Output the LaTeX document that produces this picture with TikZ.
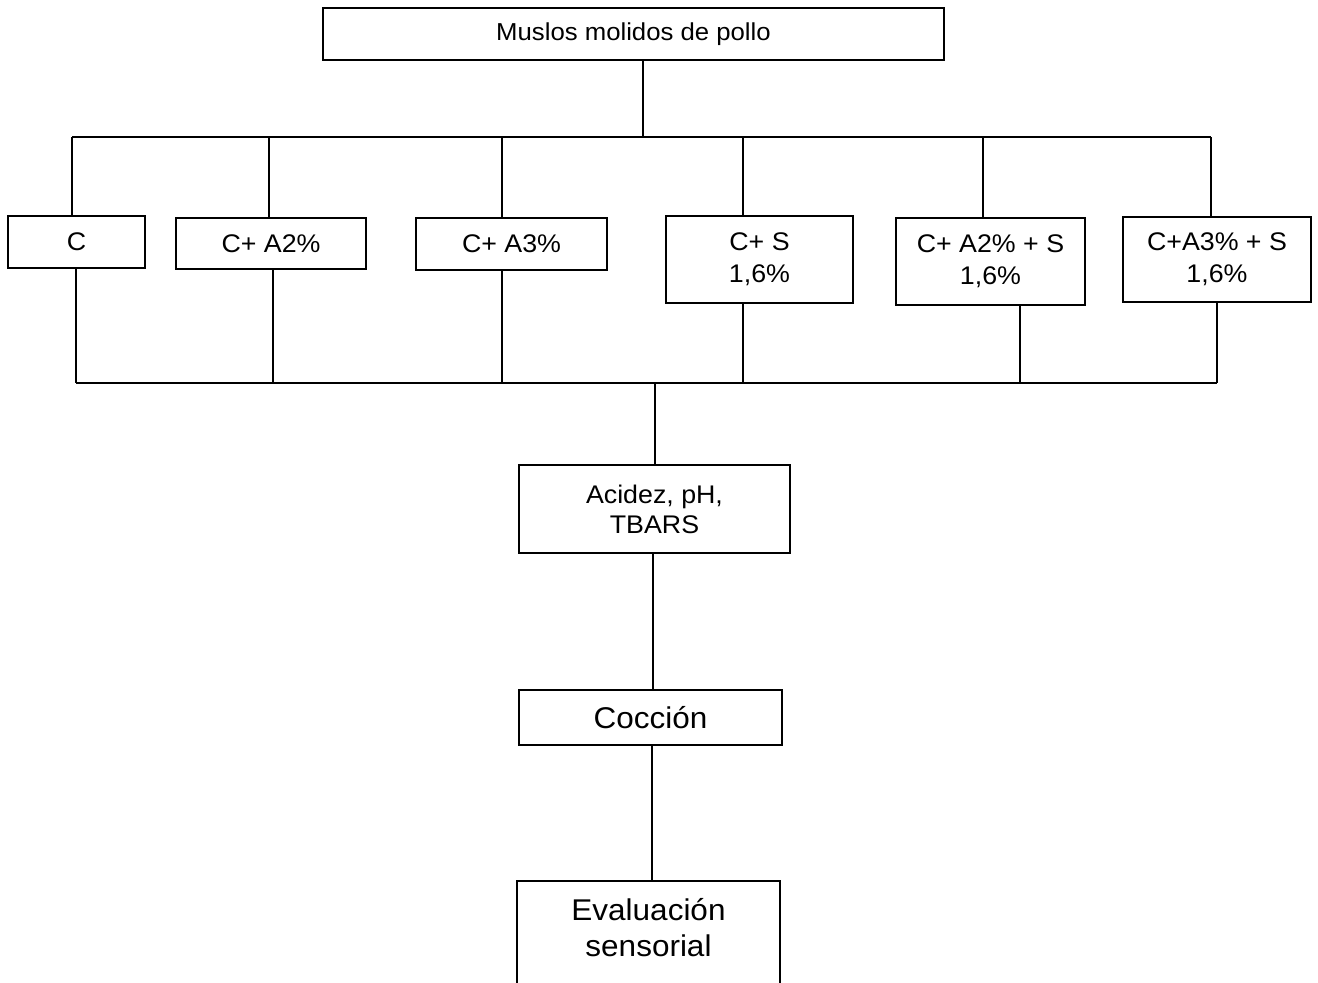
\documentclass[tikz,border=0pt]{standalone}
\usepackage{fontspec}
\setmainfont{Liberation Sans}[FakeStretch=1.05]
\begin{document}
\begin{tikzpicture}[x=1pt,y=-1pt,
  box/.style={draw,line width=1.8pt,inner sep=0pt,align=center},
  link/.style={line width=1.8pt},
  txtA/.style={font=\fontsize{24.5}{30}\selectfont},
  txtB/.style={font=\fontsize{25.5}{32}\selectfont},
  txtC/.style={font=\fontsize{25.5}{30}\selectfont},
  txtD/.style={font=\fontsize{30}{36}\selectfont}]
\useasboundingbox (0,0) rectangle (1318,983);
\clip (0,0) rectangle (1318,983);

% raw material
\node[box,txtA,minimum width=621pt,minimum height=52pt] (top) at (633.5,34) {Muslos molidos de pollo};

% six treatments
\node[box,txtB,minimum width=137pt,minimum height=52pt] (c)    at (76.5,242)   {C};
\node[box,txtB,minimum width=190pt,minimum height=51pt] (ca2)  at (271,243.5)  {C+ A2\%};
\node[box,txtB,minimum width=191pt,minimum height=52pt] (ca3)  at (511.5,244)  {C+ A3\%};
\node[box,txtB,minimum width=187pt,minimum height=87pt] (cs)   at (759.5,259.5) {C+ S\\1,6\%};
\node[box,txtB,minimum width=189pt,minimum height=87pt] (ca2s) at (990.5,261.5) {C+ A2\% + S\\1,6\%};
\node[box,txtB,minimum width=188pt,minimum height=85pt] (ca3s) at (1217,259.5) {C+A3\% + S\\1,6\%};

% analyses
\node[box,txtC,minimum width=271pt,minimum height=88pt] (acid) at (654.5,509) {Acidez, pH,\\TBARS};
\node[box,txtD,minimum width=263pt,minimum height=55pt] (cocc) at (650.5,717.5) {Cocción};
\node[box,minimum width=263pt,minimum height=130pt,anchor=north] (eval) at (648.5,880) {};
\node[txtD,align=center] (evaltxt) at (648.5,928) {Evaluación\\sensorial};

% distribution bus
\coordinate (busTL) at (72,137);
\coordinate (busTR) at (1211,137);
\draw[link] (643,137 |- top.south) -- (643,137);
\draw[link] (busTL) -- (busTR);
\foreach \x/\n in {72/c,269/ca2,502/ca3,743/cs,983/ca2s,1211/ca3s}
  \draw[link] (\x,137) -- (\x,137 |- \n.north);

% collection bus
\coordinate (busBL) at (76,383);
\coordinate (busBR) at (1217,383);
\foreach \x/\n in {76/c,273/ca2,502/ca3,743/cs,1020/ca2s,1217/ca3s}
  \draw[link] (\x,383 |- \n.south) -- (\x,383);
\draw[link] (busBL) -- (busBR);
\draw[link] (655,383) -- (655,383 |- acid.north);

% sequential steps
\draw[link] (653,0 |- acid.south) -- (653,0 |- cocc.north);
\draw[link] (652,0 |- cocc.south) -- (652,0 |- eval.north);
\end{tikzpicture}
\end{document}
